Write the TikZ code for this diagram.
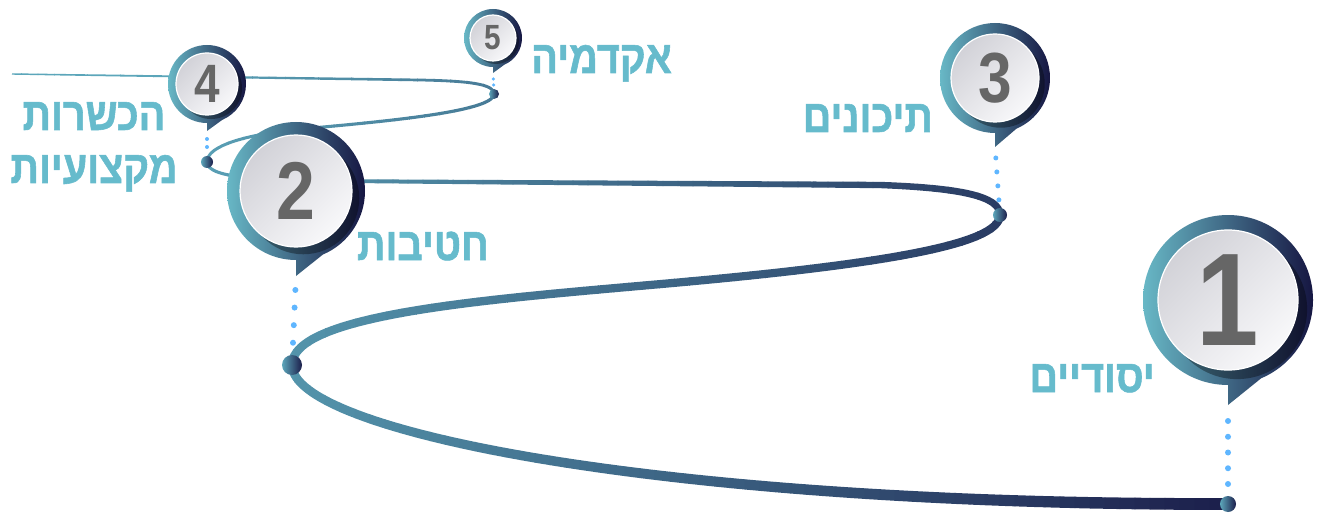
\documentclass[tikz,border=0pt]{standalone}
\usepackage{fontspec}
\setmainfont{Liberation Sans}
\newfontfamily\heb[Script=Hebrew, FakeStretch=0.86, FakeBold=1.2]{Liberation Sans}
\TeXXeTstate=1
\definecolor{tealc}{RGB}{92,166,186}
\definecolor{navyc}{RGB}{27,29,74}
\definecolor{ringl}{RGB}{104,184,198}
\definecolor{ringr}{RGB}{22,22,66}
\definecolor{labelc}{RGB}{102,187,204}
\definecolor{digitc}{RGB}{102,102,102}
\definecolor{dotc}{RGB}{95,182,255}
\definecolor{innerg}{RGB}{210,210,216}
\definecolor{innerw}{RGB}{248,248,250}

\newcommand\runstrips[6]{%
 \foreach \k in {1,...,#3}{%
  \pgfmathsetmacro\rst{(#2-#1)/#3}%
  \pgfmathsetmacro\rxa{#1+\rst*(\k-1)}%
  \pgfmathsetmacro\rxb{#1+\rst*\k}%
  \pgfmathsetmacro\rxm{(\rxa+\rxb)/2}%
  \pgfmathsetmacro\rwd{#4+(#5-#4)*(\k-0.5)/#3}%
  \pgfmathsetmacro\rfp{100*max(0,min(1,(\rxm-150)/1090))}%
  \begin{scope}
   \clip (\rxa-0.4,-20) rectangle (\rxb+0.4,540);
   \draw[line width=\rwd pt, draw=navyc!\rfp!tealc] #6;
  \end{scope}
 }}

% #1 name, #2 cx, #3 cy, #4 R, #5 r, #6 tip y, #7 digit, #8 font size
\newcommand\pinmark[8]{%
 \coordinate (#1c) at (#2,#3);
 \coordinate (#1tip) at (#2,#6);
 \begin{scope}
  \clip (#2,#3+#4) arc[start angle=90, end angle=427, radius=#4] -- (#2,#6) -- cycle;
  \shade[left color=ringl, right color=ringr] (#2-#4,#3-#4) rectangle (#2+#4,#6);
  \fill[black, opacity=0.35] (#2+0.13*#5,#3+0.13*#5) circle[radius=#5];
 \end{scope}
 \shade[top color=innerg, bottom color=innerw, shading angle=45, draw=white, line width=1.2pt] (#2,#3) circle[radius=#5];
 \node[digit, font=\fontsize{#8}{#8}\selectfont\bfseries] (#1) at (#2,#3) {#7};
}

\tikzset{
 digit/.style={text=digitc, inner sep=0pt, xscale=0.85},
 lbl/.style={font=\heb\bfseries\fontsize{46}{46}\selectfont, text=labelc, inner sep=0pt},
 dotline/.style={draw=dotc, line width=#1, line cap=round},
 pathdot/.style={left color=tealc, right color=navyc}
}

\begin{document}
\begin{tikzpicture}[x=1pt, y=-1pt]
\useasboundingbox (0,0) rectangle (1319,513);

% named points on the road
\coordinate (d1) at (1228,504);
\coordinate (d2) at (292,365);
\coordinate (d3) at (1000,215);
\coordinate (d4) at (207,162);
\coordinate (d5) at (494,94);

% the winding road, run by run (left teal -> right navy)
\runstrips{280}{1240}{64}{8.5}{12}{(1228,504) .. controls (650,505) and (292,430) .. (292,365)}
\runstrips{280}{1008}{48}{8.5}{8}{(292,365) .. controls (292,315) and (480,300) .. (650,285) .. controls (880,265) and (1000,245) .. (1000,215)}
\runstrips{198}{1008}{54}{3}{7}{(1000,215) .. controls (1000,196) and (960,188) .. (880,185) -- (330,181) .. controls (260,180) and (207,178) .. (207,162)}
\runstrips{198}{500}{20}{3}{3.2}{(207,162) .. controls (207,148) and (235,137) .. (290,130) .. controls (380,122) and (494,112) .. (494,94)}
\runstrips{5}{500}{30}{1.4}{3}{(494,94) .. controls (494,84) and (470,81) .. (420,80) -- (12,74)}

% pins
\pinmark{p1}{1228}{300}{85}{70}{405}{1}{132}
\pinmark{p2}{296}{191}{69}{56}{276}{2}{82}
\pinmark{p3}{995}{78}{55}{44}{147}{3}{71}
\pinmark{p4}{207}{84}{39}{31}{131}{4}{54}
\pinmark{p5}{493}{38}{29}{23}{73}{5}{35}

% dotted connectors from pin tips to road
\draw[dotline=6pt, dash pattern=on 0pt off 15.75pt, shorten <=16pt, shorten >=19.5pt] (p1tip) -- (d1);
\draw[dotline=6pt, dash pattern=on 0pt off 17.6pt, shorten <=14pt, shorten >=21.5pt] (p2tip) -- (d2);
\draw[dotline=5pt, dash pattern=on 0pt off 14pt, shorten <=11pt, shorten >=14.5pt] (p3tip) -- (d3);
\draw[dotline=4pt, dash pattern=on 0pt off 8pt, shorten <=8pt, shorten >=12.5pt] (p4tip) -- (d4);
\draw[dotline=3.5pt, dash pattern=on 0pt off 6pt, shorten <=6pt, shorten >=8.5pt] (p5tip) -- (d5);

% road dots
\shade[pathdot] (d1) circle[radius=8];
\shade[pathdot] (d2) circle[radius=10];
\shade[pathdot] (d3) circle[radius=7];
\shade[pathdot] (d4) circle[radius=6];
\shade[pathdot] (d5) circle[radius=5];

% labels
\node[lbl, anchor=base east] (l1) at (1155,392) {\beginR יסודיים\endR};
\node[lbl, anchor=base east] (l2) at (489,260) {\beginR חטיבות\endR};
\node[lbl, anchor=base east] (l3) at (933,132) {\beginR תיכונים\endR};
\node[lbl, anchor=base] (l4a) at (94,130) {\beginR הכשרות\endR};
\node[lbl, anchor=base] (l4b) at (94,183) {\beginR מקצועיות\endR};
\node[lbl, anchor=base east] (l5) at (672,73) {\beginR אקדמיה\endR};
\end{tikzpicture}
\end{document}
